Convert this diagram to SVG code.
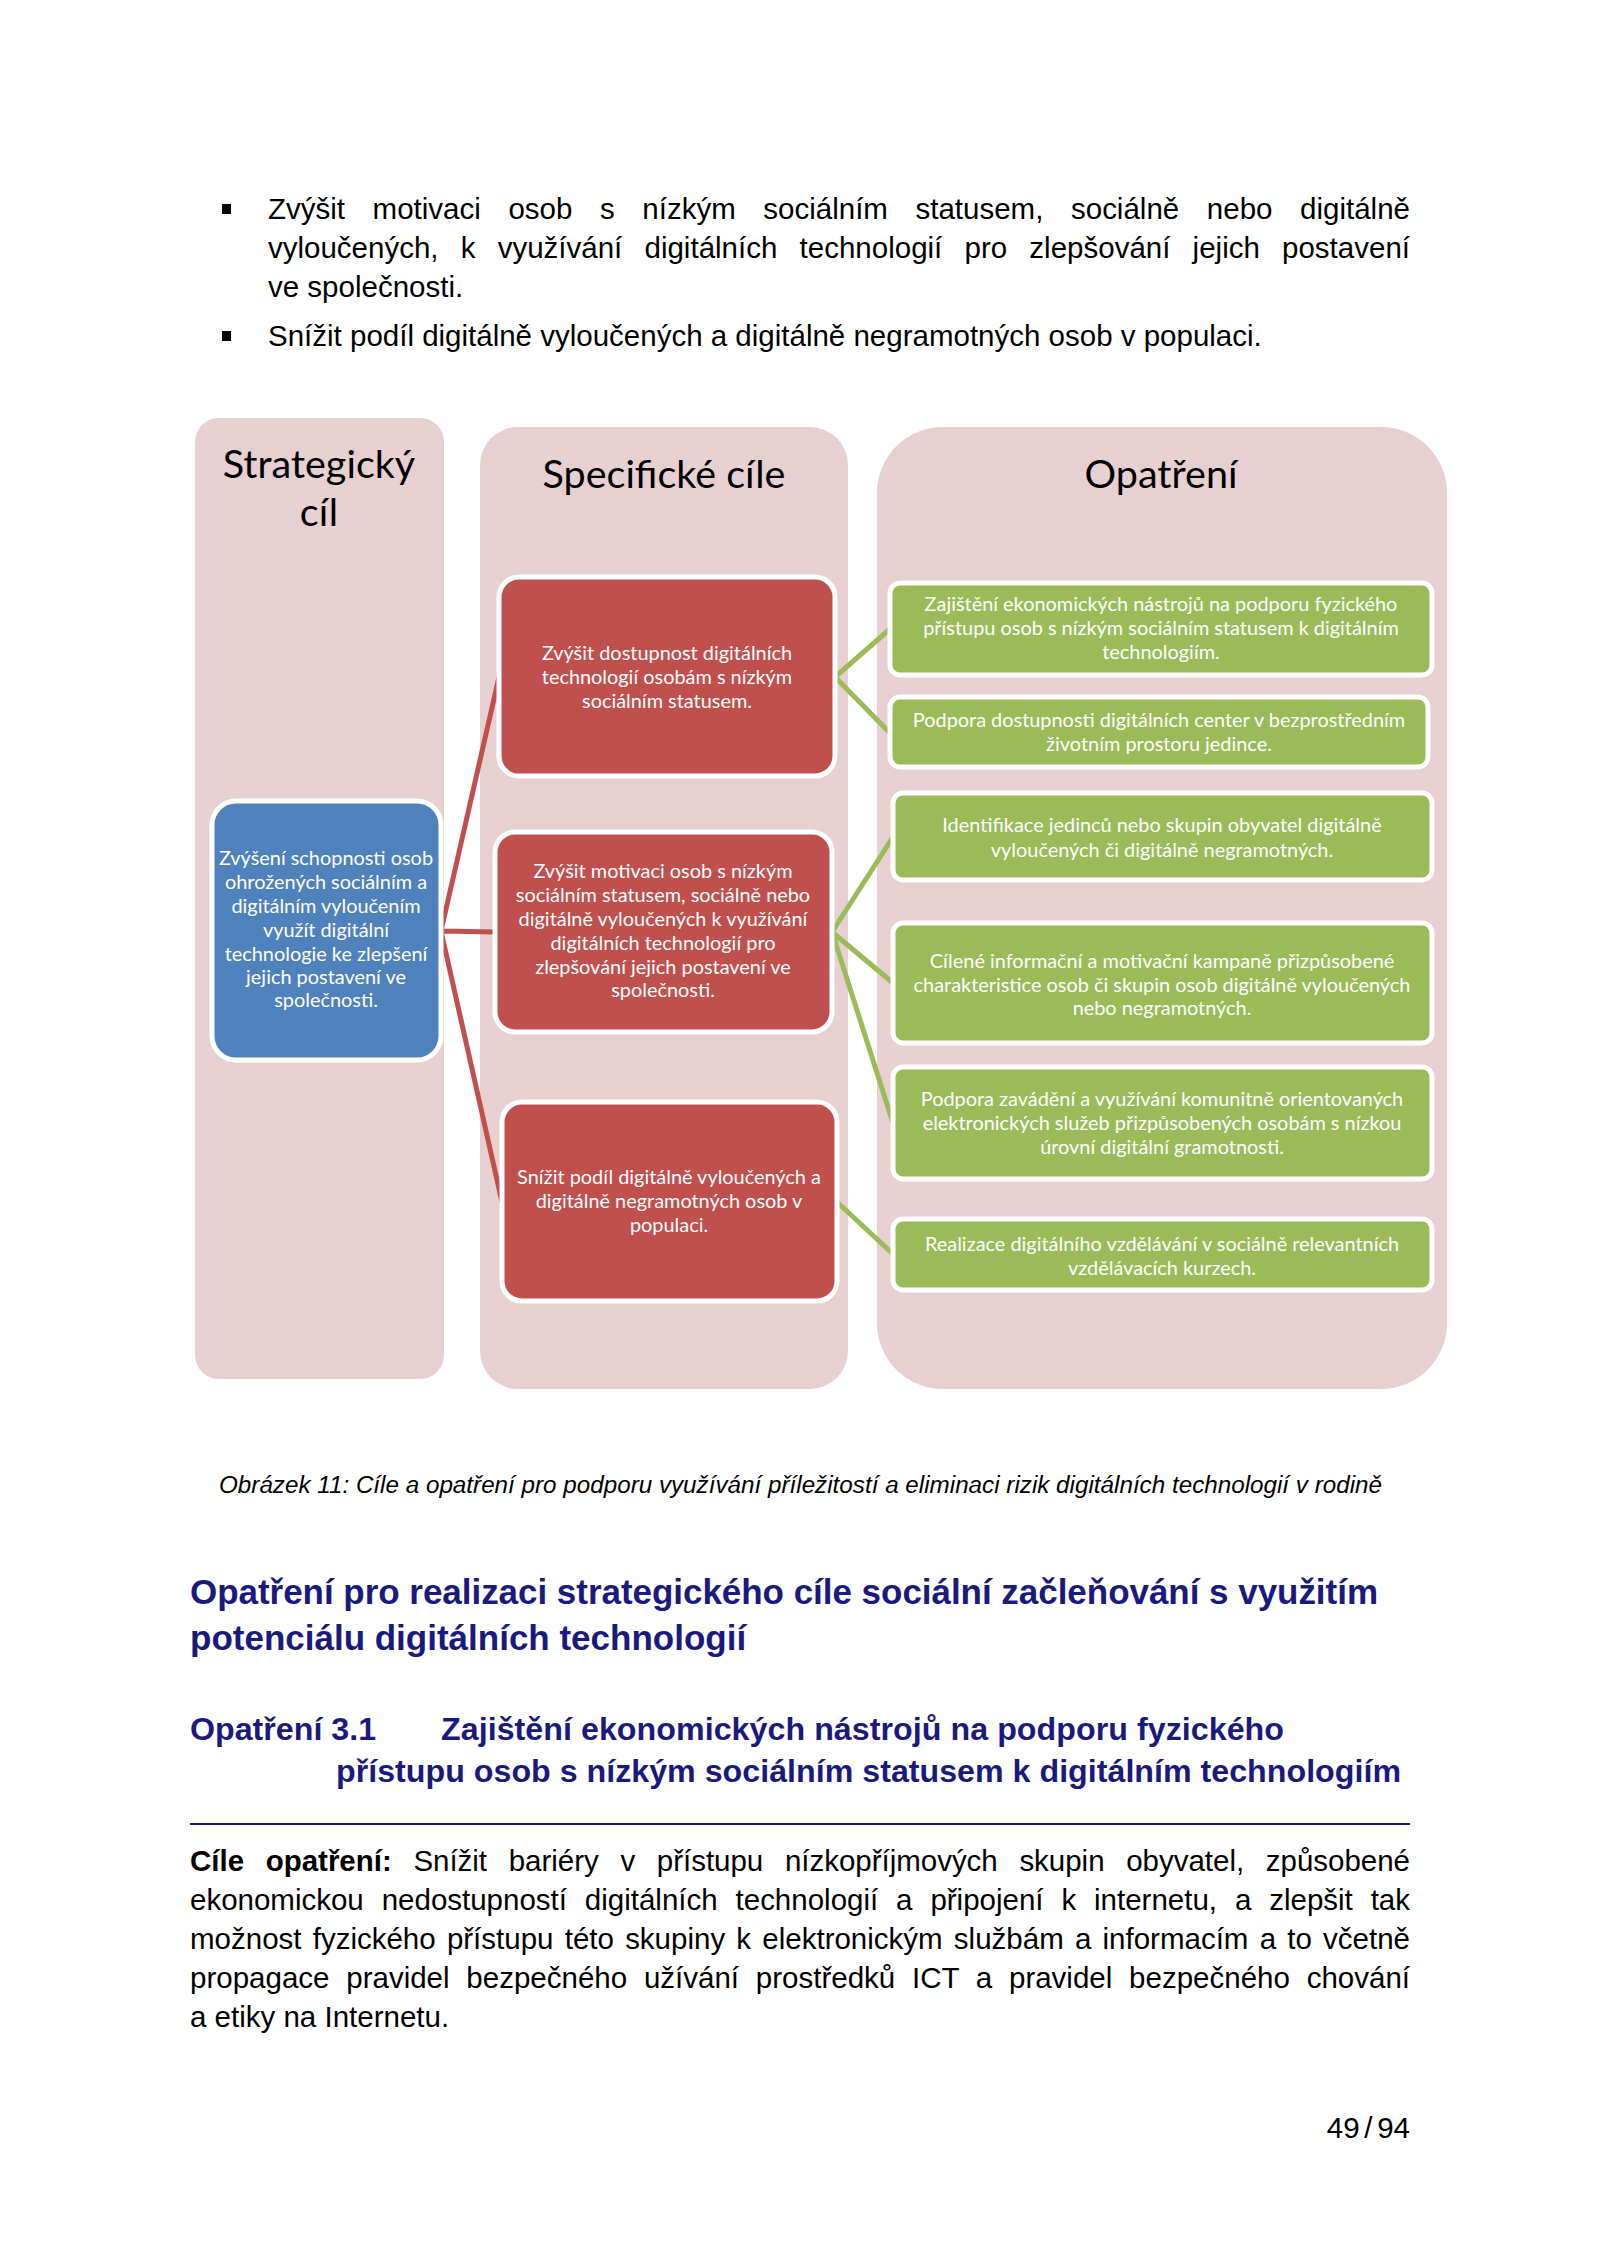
<svg xmlns="http://www.w3.org/2000/svg" width="1600" height="2262" viewBox="0 0 1600 2262">
<style>
.body{font-family:"Liberation Sans",Arial,sans-serif;font-size:29.5px;fill:#000}
.b{font-weight:bold}
.cap{font-family:"Liberation Sans",Arial,sans-serif;font-size:24.2px;font-style:italic;fill:#000}
.h{font-family:"Liberation Sans",Arial,sans-serif;font-weight:bold;fill:#1a1a7e}
.col{fill:#e6d0d1}
.ttl{font-family:Lato,"Open Sans",sans-serif;font-size:39.5px;fill:#000;text-anchor:middle}
.bx{font-family:Lato,"Open Sans",sans-serif;font-size:19.9px;fill:#fff;text-anchor:middle}
.red{fill:#c0504d;stroke:#fff;stroke-width:5}
.blue{fill:#4f81bd;stroke:#fff;stroke-width:5}
.green{fill:#9bbb59;stroke:#fff;stroke-width:5}
.cr{stroke:#c0504d;stroke-width:5;fill:none}
.cg{stroke:#9bbb59;stroke-width:5;fill:none}
</style>
<rect width="1600" height="2262" fill="#fff"/>

<g id="bullets">
<rect x="222" y="204" width="9" height="10" fill="#000"/>
<text class="body" x="268" y="219" word-spacing="19.4" textLength="1142" lengthAdjust="spacing">Zvýšit motivaci osob s nízkým sociálním statusem, sociálně nebo digitálně</text>
<text class="body" x="268" y="258" word-spacing="14" textLength="1142" lengthAdjust="spacing">vyloučených, k využívání digitálních technologií pro zlepšování jejich postavení</text>
<text class="body" x="268" y="297">ve společnosti.</text>
<rect x="222" y="331" width="9" height="10" fill="#000"/>
<text class="body" x="268" y="346">Snížit podíl digitálně vyloučených a digitálně negramotných osob v populaci.</text>
</g>

<g id="columns">
<rect class="col" x="195" y="418" width="249" height="961" rx="24"/>
<rect class="col" x="480" y="427" width="368" height="962" rx="38"/>
<rect class="col" x="877" y="427" width="570" height="962" rx="66"/>
<text class="ttl" x="319" y="478">Strategický</text>
<text class="ttl" x="319" y="526">cíl</text>
<text class="ttl" x="664" y="488">Specifické cíle</text>
<text class="ttl" x="1161" y="488">Opatření</text>
</g>

<g id="connectors">
<path class="cr" d="M441 931 L499 677 M441 931 L495 932 M441 931 L502 1202"/>
<path class="cg" d="M835 677 L890 629 M835 677 L890 733 M832 932 L893 837 M832 932 L893 983 M832 932 L893 1123 M837 1202 L893 1254"/>
</g>

<g id="strategic">
<rect class="blue" x="212" y="801" width="229" height="259" rx="24"/>
<text class="bx" x="326"><tspan x="326" y="865">Zvýšení schopnosti osob</tspan><tspan x="326" y="889">ohrožených sociálním a</tspan><tspan x="326" y="913">digitálním vyloučením</tspan><tspan x="326" y="937">využít digitální</tspan><tspan x="326" y="961">technologie ke zlepšení</tspan><tspan x="326" y="984">jejich postavení ve</tspan><tspan x="326" y="1007">společnosti.</tspan></text>
</g>

<g id="spec1">
<rect class="red" x="499" y="577" width="336" height="199" rx="20"/>
<text class="bx"><tspan x="667" y="660">Zvýšit dostupnost digitálních</tspan><tspan x="667" y="684">technologií osobám s nízkým</tspan><tspan x="667" y="708">sociálním statusem.</tspan></text>
</g>
<g id="spec2">
<rect class="red" x="495" y="832" width="337" height="200" rx="20"/>
<text class="bx"><tspan x="663" y="878">Zvýšit motivaci osob s nízkým</tspan><tspan x="663" y="902">sociálním statusem, sociálně nebo</tspan><tspan x="663" y="926">digitálně vyloučených k využívání</tspan><tspan x="663" y="950">digitálních technologií pro</tspan><tspan x="663" y="974">zlepšování jejich postavení ve</tspan><tspan x="663" y="997">společnosti.</tspan></text>
</g>
<g id="spec3">
<rect class="red" x="502" y="1102" width="335" height="199" rx="20"/>
<text class="bx"><tspan x="669" y="1184">Snížit podíl digitálně vyloučených a</tspan><tspan x="669" y="1208">digitálně negramotných osob v</tspan><tspan x="669" y="1232">populaci.</tspan></text>
</g>

<g id="m1">
<rect class="green" x="890" y="583" width="542" height="92" rx="10"/>
<text class="bx"><tspan x="1161" y="611">Zajištění ekonomických nástrojů na podporu fyzického</tspan><tspan x="1161" y="635">přístupu  osob s nízkým sociálním statusem k digitálním</tspan><tspan x="1161" y="659">technologiím.</tspan></text>
</g>
<g id="m2">
<rect class="green" x="890" y="697" width="538" height="70" rx="10"/>
<text class="bx"><tspan x="1159" y="727">Podpora dostupnosti digitálních center v bezprostředním</tspan><tspan x="1159" y="751">životním prostoru jedince.</tspan></text>
</g>
<g id="m3">
<rect class="green" x="893" y="793" width="539" height="87" rx="10"/>
<text class="bx"><tspan x="1162" y="832">Identifikace jedinců nebo skupin obyvatel  digitálně</tspan><tspan x="1162" y="857">vyloučených či digitálně negramotných.</tspan></text>
</g>
<g id="m4">
<rect class="green" x="893" y="923" width="539" height="120" rx="10"/>
<text class="bx"><tspan x="1162" y="968">Cílené informační a motivační kampaně přizpůsobené</tspan><tspan x="1162" y="992">charakteristice osob či skupin osob digitálně vyloučených</tspan><tspan x="1162" y="1015">nebo negramotných.</tspan></text>
</g>
<g id="m5">
<rect class="green" x="893" y="1067" width="539" height="112" rx="10"/>
<text class="bx"><tspan x="1162" y="1106">Podpora zavádění a využívání komunitně orientovaných</tspan><tspan x="1162" y="1130">elektronických služeb přizpůsobených osobám s nízkou</tspan><tspan x="1162" y="1154">úrovní digitální gramotnosti.</tspan></text>
</g>
<g id="m6">
<rect class="green" x="893" y="1219" width="539" height="71" rx="10"/>
<text class="bx"><tspan x="1162" y="1251">Realizace digitálního vzdělávání v sociálně relevantních</tspan><tspan x="1162" y="1275">vzdělávacích kurzech.</tspan></text>
</g>

<g id="text-below">
<text class="cap" x="219" y="1493" textLength="1163" lengthAdjust="spacing">Obrázek 11: Cíle a opatření pro podporu využívání příležitostí a eliminaci rizik digitálních technologií v rodině</text>
<text class="h" x="190" y="1604" font-size="35" textLength="1188" lengthAdjust="spacing">Opatření pro realizaci strategického cíle sociální začleňování s využitím</text>
<text class="h" x="190" y="1650" font-size="35">potenciálu digitálních technologií</text>
<text class="h" x="190" y="1740" font-size="32.2">Opatření 3.1</text>
<text class="h" x="441" y="1740" font-size="32.2" textLength="843" lengthAdjust="spacing">Zajištění ekonomických nástrojů na podporu fyzického</text>
<text class="h" x="336" y="1782" font-size="32.2" textLength="1065" lengthAdjust="spacing">přístupu osob s nízkým sociálním statusem k digitálním technologiím</text>
<line x1="190" y1="1824" x2="1410" y2="1824" stroke="#1a1a7e" stroke-width="2"/>
<text class="body" x="190" y="1871" word-spacing="13.5" textLength="1220" lengthAdjust="spacing"><tspan class="b">Cíle opatření:</tspan> Snížit bariéry v přístupu nízkopříjmových skupin obyvatel, způsobené</text>
<text class="body" x="190" y="1910" word-spacing="9.7" textLength="1220" lengthAdjust="spacing">ekonomickou nedostupností digitálních technologií a připojení k internetu, a zlepšit tak</text>
<text class="body" x="190" y="1949" word-spacing="3" textLength="1220" lengthAdjust="spacing">možnost fyzického přístupu této skupiny k elektronickým službám a informacím a to včetně</text>
<text class="body" x="190" y="1988" word-spacing="8.6" textLength="1220" lengthAdjust="spacing">propagace pravidel bezpečného užívání prostředků ICT a pravidel bezpečného chování</text>
<text class="body" x="190" y="2027">a etiky na Internetu.</text>
<text class="body" x="1410" y="2138" font-size="27" word-spacing="-3.5" text-anchor="end">49 / 94</text>
</g>
</svg>
